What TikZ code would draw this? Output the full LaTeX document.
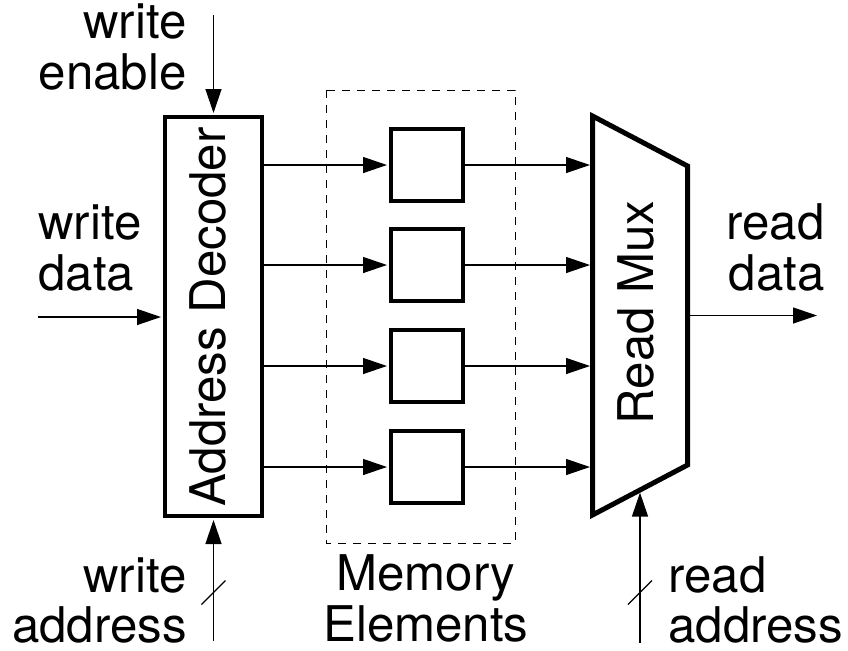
\documentclass[tikz,border=0pt]{standalone}
\usepackage{fontspec}
\setmainfont{TeX Gyre Heros}
\usetikzlibrary{arrows.meta,calc}
\begin{document}
\begin{tikzpicture}[x=0.5pt,y=-0.5pt,
  wire/.style={line width=0.65pt, -{Triangle[length=12pt,width=8pt]}},
  thinline/.style={line width=0.65pt},
  lbl/.style={font=\fontsize{24.6}{26}\selectfont, inner sep=0pt},
  blockbox/.style={draw, line width=2pt, inner sep=0pt},
  mem/.style={draw, line width=2pt, minimum size=36pt, inner sep=0pt},
  groupbox/.style={draw, line width=0.5pt, dash pattern=on 4pt off 3.5pt},
]
\useasboundingbox (0,0) rectangle (848,650);

% address decoder
\node[blockbox, minimum width=48.5pt, minimum height=199.5pt] (dec) at (213.5,316.5) {};
\node[lbl, rotate=90, anchor=base] (declbl) at (225.5,317) {Address Decoder};

% memory group
\draw[groupbox] (326,90) rectangle (515,543);
\node[mem] (m1) at (427,165) {};
\node[mem] (m2) at (427,265) {};
\node[mem] (m3) at (427,366) {};
\node[mem] (m4) at (427,467) {};

% read mux
\coordinate (mtl) at (592.5,116);
\coordinate (mtr) at (687.5,166);
\coordinate (mbr) at (687.5,465);
\coordinate (mbl) at (592.5,515);
\draw[line width=2.5pt, line join=miter] (mtl) -- (mtr) -- (mbr) -- (mbl) -- cycle;
\node[lbl, rotate=90, anchor=base] (muxlbl) at (653.5,312.5) {Read Mux};
\coordinate (mb) at ($(mbl)!0.5!(mbr)$);
\coordinate (mr) at ($(mtr)!0.5!(mbr)$);

% decoder to memory, memory to mux
\foreach \m in {m1,m2,m3,m4}{
  \draw[wire, shorten >=1pt] (dec.east |- \m) -- (\m.west);
  \draw[wire, shorten >=1.25pt] (\m.east) -- (\m.east -| mtl);
}

% inputs
\coordinate (we) at (213.5,15);
\draw[wire, shorten >=1pt] (we) -- (dec.north);
\coordinate (wd) at (38,317);
\draw[wire, shorten >=1pt] (wd) -- (wd -| dec.west);
\coordinate (wa) at (213.5,641);
\draw[wire, shorten >=1pt] (wa) -- (dec.south);
\coordinate (was) at (213.5,592.5);
\draw[thinline] (was) ++(-12,12) -- ++(24,-24);

\coordinate (ra) at (640,643);
\draw[wire, shorten >=1.3pt] (ra) -- (mb);
\coordinate (ras) at (640,592.5);
\draw[thinline] (ras) ++(-12,12) -- ++(24,-24);

\coordinate (rd) at (817,315.5);
\draw[wire] (mr) -- (rd);

% labels
\node[lbl, anchor=base east] (we1) at (187,38) {write};
\node[lbl, anchor=base east] (we2) at (187,89) {enable};
\node[lbl, anchor=base west] (wd1) at (38,239) {write};
\node[lbl, anchor=base west] (wd2) at (38,290) {data};
\node[lbl, anchor=base east] (rd1) at (825,239) {read};
\node[lbl, anchor=base east] (rd2) at (825,290) {data};
\node[lbl, anchor=base east] (wa1) at (187,592) {write};
\node[lbl, anchor=base east] (wa2) at (187,642) {address};
\node[lbl, anchor=base] (me1) at (426,590) {Memory};
\node[lbl, anchor=base] (me2) at (426,641) {Elements};
\node[lbl, anchor=base west] (ra1) at (668,592) {read};
\node[lbl, anchor=base west] (ra2) at (668,642) {address};
\end{tikzpicture}
\end{document}
